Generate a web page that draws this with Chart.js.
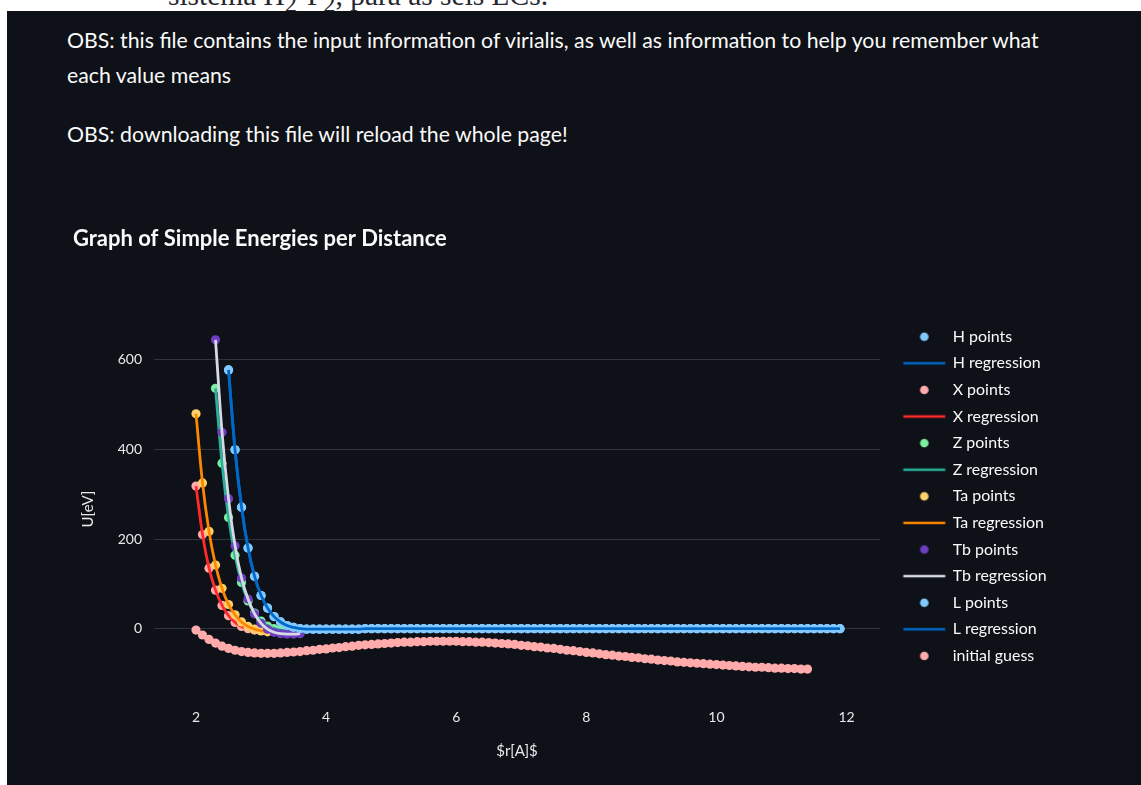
<!DOCTYPE html>
<html>
<head>
<meta charset="utf-8">
<script src="https://cdn.jsdelivr.net/npm/chart.js@4.4.0/dist/chart.umd.min.js"></script>
<style>
  html, body { margin: 0; padding: 0; width: 1141px; height: 785px; overflow: hidden; background: #ffffff; }
  #dark { position: absolute; left: 7px; top: 11px; width: 1134px; height: 774px; background: #0e1117; }
  #cut { position: absolute; left: 168px; top: 0; width: 500px; height: 11px; overflow: hidden; }
  #cut span { position: absolute; left: 0; white-space: nowrap; color: #262730; font-family: "Liberation Serif", "DejaVu Serif", serif; line-height: 1; }
  .para { position: absolute; left: 67px; color: #fafafa; white-space: nowrap; font-family: Lato, "Open Sans", sans-serif; line-height: 1.2; }
  #chart { position: absolute; left: 60px; top: 200px; }
</style>
</head>
<body>
<div id="dark"></div>
<div id="cut"><span id="cutText">sistema H<sub>2</sub>-F<sub>2</sub>, para as seis LCs.</span></div>
<div class="para" id="p1">OBS: this file contains the input information of virialis, as well as information to help you remember what</div>
<div class="para" id="p2">each value means</div>
<div class="para" id="p3">OBS: downloading this file will reload the whole page!</div>
<canvas id="chart" width="1081" height="585"></canvas>
<script>
// distances (Angstrom) and energies (eV)
const hR = [
  2.5, 2.6, 2.7, 2.8, 2.9, 3.0, 3.1, 3.2, 3.3, 3.4,
  3.5, 3.6, 3.7, 3.8, 3.9, 4.0, 4.1, 4.2, 4.3, 4.4,
  4.5, 4.6, 4.7, 4.8, 4.9, 5.0, 5.1, 5.2, 5.3, 5.4,
  5.5, 5.6, 5.7, 5.8, 5.9, 6.0, 6.1, 6.2, 6.3, 6.4,
  6.5, 6.6, 6.7, 6.8, 6.9, 7.0, 7.1, 7.2, 7.3, 7.4,
  7.5, 7.6, 7.7, 7.8, 7.9, 8.0, 8.1, 8.2, 8.3, 8.4,
  8.5, 8.6, 8.7, 8.8, 8.9, 9.0, 9.1, 9.2, 9.3, 9.4,
  9.5, 9.6, 9.7, 9.8, 9.9, 10.0, 10.1, 10.2, 10.3, 10.4,
  10.5, 10.6, 10.7, 10.8, 10.9, 11.0, 11.1, 11.2, 11.3, 11.4,
  11.5, 11.6, 11.7, 11.8, 11.9
];
const hU = [
  577, 399, 271, 180, 117, 74, 46, 27, 15, 7,
  3, 0, -1, -1, -1, -1, -1, -1, -1, -1,
  -1, 0, 0, 0, 0, 0, 0, 0, 0, 0,
  0, 0, 0, 0, 0, 0, 0, 0, 0, 0,
  0, 0, 0, 0, 0, 0, 0, 0, 0, 0,
  0, 0, 0, 0, 0, 0, 0, 0, 0, 0,
  0, 0, 0, 0, 0, 0, 0, 0, 0, 0,
  0, 0, 0, 0, 0, 0, 0, 0, 0, 0,
  0, 0, 0, 0, 0, 0, 0, 0, 0, 0,
  0, 0, 0, 0, 0
];
const xR = [2.0, 2.1, 2.2, 2.3, 2.4, 2.5, 2.6, 2.7, 2.8, 2.9];
const xU = [318, 210, 135, 86, 52, 29, 14, 5, 0, -3];
const zR = [2.3, 2.4, 2.5, 2.6, 2.7, 2.8, 2.9, 3.0, 3.1, 3.2, 3.3, 3.4];
const zU = [536, 369, 248, 164, 103, 62, 35, 17, 6, 0, -3, -4];
const taR = [2.0, 2.1, 2.2, 2.3, 2.4, 2.5, 2.6, 2.7, 2.8, 2.9, 3.0, 3.1];
const taU = [479, 325, 217, 142, 90, 54, 31, 15, 5, -1, -5, -7];
const tbR = [2.3, 2.4, 2.5, 2.6, 2.7, 2.8, 2.9, 3.0, 3.1, 3.2, 3.3, 3.4, 3.5, 3.6];
const tbU = [644, 438, 290, 185, 113, 66, 33, 12, -1, -8, -11, -12, -12, -11];
const lR = hR;
const lU = hU;
const igR = [
  2.0, 2.1, 2.2, 2.3, 2.4, 2.5, 2.6, 2.7, 2.8, 2.9,
  3.0, 3.1, 3.2, 3.3, 3.4, 3.5, 3.6, 3.7, 3.8, 3.9,
  4.0, 4.1, 4.2, 4.3, 4.4, 4.5, 4.6, 4.7, 4.8, 4.9,
  5.0, 5.1, 5.2, 5.3, 5.4, 5.5, 5.6, 5.7, 5.8, 5.9,
  6.0, 6.1, 6.2, 6.3, 6.4, 6.5, 6.6, 6.7, 6.8, 6.9,
  7.0, 7.1, 7.2, 7.3, 7.4, 7.5, 7.6, 7.7, 7.8, 7.9,
  8.0, 8.1, 8.2, 8.3, 8.4, 8.5, 8.6, 8.7, 8.8, 8.9,
  9.0, 9.1, 9.2, 9.3, 9.4, 9.5, 9.6, 9.7, 9.8, 9.9,
  10.0, 10.1, 10.2, 10.3, 10.4, 10.5, 10.6, 10.7, 10.8, 10.9,
  11.0, 11.1, 11.2, 11.3, 11.4
];
const igU = [
  -3, -14, -24, -32, -39, -44, -48, -51, -53, -54,
  -55, -55, -55, -54, -53, -52, -51, -49, -48, -46,
  -45, -43, -42, -40, -39, -37, -36, -35, -34, -33,
  -32, -31, -30, -30, -29, -29, -28, -28, -28, -28,
  -28, -29, -29, -30, -30, -31, -32, -33, -34, -35,
  -37, -38, -40, -41, -43, -44, -46, -48, -49, -51,
  -53, -54, -56, -58, -59, -61, -62, -64, -65, -67,
  -68, -70, -71, -72, -74, -75, -76, -77, -78, -79,
  -80, -81, -82, -83, -84, -85, -86, -86, -87, -88,
  -88, -89, -89, -90, -90
];
const xTicks = [2, 4, 6, 8, 10, 12];
const yTicks = [0, 200, 400, 600];

const FAMILY = "Lato, 'Open Sans', sans-serif";
const TEXT = "#fafafa";
const TICK = "#e8e8ec";

const series = [
  { label: "H points", r: hR, u: hU, color: "#83c9ff", line: false },
  { label: "H regression", r: hR, u: hU, color: "#0068c9", line: true },
  { label: "X points", r: xR, u: xU, color: "#ffabab", line: false },
  { label: "X regression", r: xR, u: xU, color: "#ff2b2b", line: true },
  { label: "Z points", r: zR, u: zU, color: "#7defa1", line: false },
  { label: "Z regression", r: zR, u: zU, color: "#29b09d", line: true },
  { label: "Ta points", r: taR, u: taU, color: "#ffd16a", line: false },
  { label: "Ta regression", r: taR, u: taU, color: "#ff8700", line: true },
  { label: "Tb points", r: tbR, u: tbU, color: "#6d3fc0", line: false },
  { label: "Tb regression", r: tbR, u: tbU, color: "#d5dae5", line: true },
  { label: "L points", r: lR, u: lU, color: "#83c9ff", line: false },
  { label: "L regression", r: lR, u: lU, color: "#0068c9", line: true },
  { label: "initial guess", r: igR, u: igU, color: "#ffabab", line: false },
];

// pick a font size so a text spans the width it has in the picture
const measureCtx = document.createElement("canvas").getContext("2d");
function fitFont(text, weight, family, width) {
  measureCtx.font = weight + " 100px " + family;
  return 100 * width / measureCtx.measureText(text).width;
}
function textWidth(text, weight, size, family) {
  measureCtx.font = weight + " " + size + "px " + family;
  return measureCtx.measureText(text).width;
}

// html text above the chart
const pSize = fitFont(document.getElementById("p1").textContent, "normal", FAMILY, 975);
[["p1", 41.5], ["p2", 76.5], ["p3", 135]].forEach(([id, cy]) => {
  const el = document.getElementById(id);
  el.style.fontSize = pSize + "px";
  el.style.top = (cy - 0.627 * pSize) + "px";
});
const cutSize = fitFont("sistema H2-F2, para as seis LCs.", "normal", "'Liberation Serif'", 385);
const cut = document.getElementById("cutText");
cut.style.fontSize = cutSize + "px";
cut.style.top = (6 - 0.84 * cutSize) + "px";

// page-pixel geometry of the plot
const canvasLeft = 60, canvasTop = 200, canvasW = 1081, canvasH = 585;
const plotLeft = 154, plotRight = 880, plotBottom = 700;
const legendFs = fitFont("Tb regression", "normal", FAMILY, 94);
const legendPad = 26.6 - legendFs;
const plotTop = 336.7 - legendPad - legendFs / 2;

const zeroY = 628.7, pxPerU = 0.4485;
const zeroX = 65.9, pxPerR = 65.05;
const yMax = (zeroY - plotTop) / pxPerU;
const yMin = (zeroY - plotBottom) / pxPerU;
const xMin = (plotLeft - zeroX) / pxPerR;
const xMax = (plotRight - zeroX) / pxPerR;

const titleText = "Graph of Simple Energies per Distance";
const titleFs = fitFont(titleText, "bold", FAMILY, 374);
const titleLh = titleFs * 1.2;
const titlePadTop = 239 - canvasTop - titleLh / 2;
const titlePadBottom = (plotTop - canvasTop) - titlePadTop - titleLh;

// legend symbols: drawn into small canvases, offset so they sit where the picture has them
const boxLeft = plotRight + legendPad;
const boxW = 952.7 - boxLeft - legendFs / 2;
const symbolDx = 924.3 - (boxLeft + boxW / 2);
const maxLabelW = Math.max(...series.map((s) => textWidth(s.label, "normal", legendFs, FAMILY)));
const legendW = Math.floor(legendPad + boxW + legendFs / 2 + maxLabelW + 10) - 1;

const padLeft = 73 - canvasLeft;
const padRight = canvasLeft + canvasW - legendW - plotRight;

function legendIcon(s) {
  const w = Math.ceil(2 * (Math.abs(symbolDx) + 24));
  const h = 12;
  const c = document.createElement("canvas");
  c.width = w; c.height = h;
  const g = c.getContext("2d");
  const cx = w / 2 + symbolDx;
  if (s.line) {
    g.strokeStyle = s.color;
    g.lineWidth = 2.6;
    g.beginPath();
    g.moveTo(cx - 21, h / 2);
    g.lineTo(cx + 21, h / 2);
    g.stroke();
  } else {
    g.fillStyle = s.color;
    g.beginPath();
    g.arc(cx, h / 2, 4.3, 0, Math.PI * 2);
    g.fill();
  }
  return c;
}
const legendIcons = series.map(legendIcon);

const datasets = series.map((s, i) => ({
  label: s.label,
  data: s.r.map((r, j) => ({ x: r, y: s.u[j] })),
  showLine: s.line,
  borderColor: s.color,
  backgroundColor: s.color,
  borderWidth: 2.8,
  pointRadius: s.line ? 0 : 4.6,
  pointHoverRadius: s.line ? 0 : 4.6,
  pointBorderWidth: 0,
  cubicInterpolationMode: "monotone",
  order: series.length - i,
}));

const ctx = document.getElementById("chart").getContext("2d");
new Chart(ctx, {
  type: "scatter",
  data: { datasets },
  options: {
    responsive: false,
    animation: false,
    devicePixelRatio: 1,
    layout: { autoPadding: false, padding: { left: padLeft, right: padRight, top: 0, bottom: 0 } },
    scales: {
      x: {
        type: "linear",
        min: xMin,
        max: xMax,
        afterBuildTicks: (scale) => { scale.ticks = xTicks.map((v) => ({ value: v })); },
        afterFit: (scale) => { scale.height = canvasTop + canvasH - plotBottom; },
        grid: { display: false, drawTicks: false },
        border: { display: false },
        ticks: { color: TICK, padding: 9, maxRotation: 0, font: { family: FAMILY, size: 14 } },
        title: {
          display: true,
          text: "$r[A]$",
          color: TICK,
          font: { family: FAMILY, size: 15 },
          padding: { top: 0, bottom: 34 - 15 * 0.6 },
        },
      },
      y: {
        type: "linear",
        min: yMin,
        max: yMax,
        afterBuildTicks: (scale) => { scale.ticks = yTicks.map((v) => ({ value: v })); },
        afterFit: (scale) => { scale.width = plotLeft - 73; },
        grid: { color: "#31333f", lineWidth: 1, drawTicks: false },
        border: { display: false },
        ticks: { color: TICK, padding: 12, font: { family: FAMILY, size: 14 } },
        title: {
          display: true,
          text: "U[eV]",
          color: TICK,
          font: { family: FAMILY, size: 15 },
          padding: { top: 15 - 15 * 0.6, bottom: 0 },
        },
      },
    },
    plugins: {
      title: {
        display: true,
        text: titleText,
        align: "start",
        color: TEXT,
        font: { family: FAMILY, size: titleFs, weight: "bold" },
        padding: { top: titlePadTop, bottom: titlePadBottom },
      },
      legend: {
        position: "right",
        align: "start",
        fullSize: false,
        maxWidth: legendW,
        labels: {
          usePointStyle: true,
          pointStyleWidth: boxW,
          padding: legendPad,
          color: TEXT,
          font: { family: FAMILY, size: legendFs },
          sort: (a, b) => a.datasetIndex - b.datasetIndex,
          generateLabels: (chart) => {
            const items = Chart.defaults.plugins.legend.labels.generateLabels(chart);
            items.forEach((it) => { it.pointStyle = legendIcons[it.datasetIndex]; });
            return items;
          },
        },
      },
      tooltip: { enabled: false },
    },
  },
});
</script>
</body>
</html>
